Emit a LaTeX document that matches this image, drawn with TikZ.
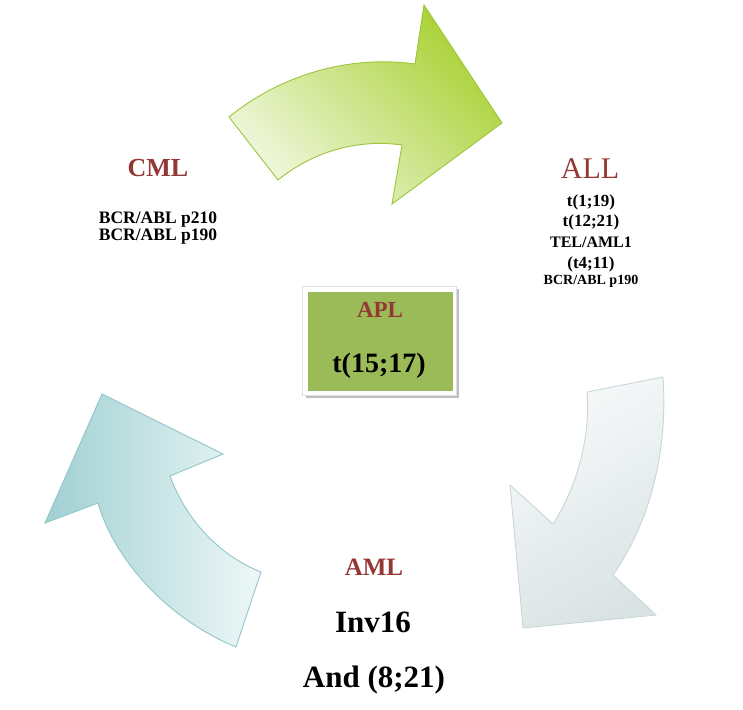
\documentclass[tikz,border=0pt]{standalone}
\usepackage{fontspec}
\setmainfont{Liberation Serif}
\usepackage{tikz}

\definecolor{darkred}{RGB}{149,55,53}
\definecolor{aplgreen}{RGB}{155,187,89}
\definecolor{limedark}{RGB}{169,209,52}
\definecolor{limepale}{RGB}{240,247,222}
\definecolor{limeline}{RGB}{155,198,58}
\definecolor{fogdark}{RGB}{218,227,228}
\definecolor{foglight}{RGB}{247,249,249}
\definecolor{fogline}{RGB}{200,214,216}
\definecolor{tealdark}{RGB}{160,208,210}
\definecolor{teallight}{RGB}{238,247,247}
\definecolor{tealline}{RGB}{143,198,201}

\tikzset{
  bigarrow/.style={line width=0.9pt, line join=miter},
  title/.style={anchor=base, text=darkred, font=\bfseries\fontsize{#1}{#1}\selectfont},
  entry/.style={anchor=base, font=\bfseries\fontsize{#1}{#1}\selectfont},
}

\begin{document}
\begin{tikzpicture}[x=1pt, y=-1pt]
  \useasboundingbox (0,0) rectangle (743,709);

  % the three curved arrows
  \draw[bigarrow, draw=limeline, top color=limedark, bottom color=limepale, shading angle=-45]
    (229,117) .. controls (282,74) and (350,55) .. (415,64)
    -- (424,5) -- (502,123) -- (392,204) -- (402,145)
    .. controls (360,139) and (315,150) .. (278,180) -- cycle;
  \draw[bigarrow, draw=fogline, top color=foglight, bottom color=fogdark, shading angle=30]
    (587,392) -- (663,377)
    .. controls (668,452) and (650,522) .. (613,575)
    -- (656,615) -- (523,628) -- (510,485) -- (553,524)
    .. controls (575,490) and (591,440) .. (587,392);
  \draw[bigarrow, draw=tealline, left color=tealdark, right color=teallight]
    (102,394) -- (223,454) -- (170,476)
    .. controls (186,520) and (220,556) .. (261,572)
    -- (236,647)
    .. controls (170,620) and (115,562) .. (98,503)
    -- (45,523) -- cycle;

  % APL box in the middle
  \fill[gray!50] (305.5,289) rectangle (459,398);
  \filldraw[fill=white, draw=gray!25, line width=0.5pt] (302.5,286.5) rectangle (456.5,395.5);
  \node[fill=aplgreen, minimum width=145pt, minimum height=99pt, inner sep=0pt] (apl) at (380.5,341.5) {};
  \node[title=23] (apltitle) at (380,317) {APL};
  \node[entry=28] (aplA) at (379,372) {t(15;17)};

  % CML
  \node[title=26] (cml) at (158,176) {CML};
  \node[entry=17.5] (cmlA) at (158,223) {BCR/ABL p210};
  \node[entry=17.5] (cmlB) at (158,240) {BCR/ABL p190};

  % ALL
  \node[anchor=base, text=darkred, font=\fontsize{30}{30}\selectfont] (all) at (590,178) {ALL};
  \node[entry=17] (allA) at (591,206) {t(1;19)};
  \node[entry=17] (allB) at (591,226.5) {t(12;21)};
  \node[entry=16] (allC) at (591,247) {TEL/AML1};
  \node[entry=17] (allD) at (591,268) {(t4;11)};
  \node[entry=14] (allE) at (591,284) {BCR/ABL p190};

  % AML
  \node[title=25] (aml) at (374,575) {AML};
  \node[entry=31] (amlA) at (373,632) {Inv16};
  \node[entry=31] (amlB) at (374,687) {And (8;21)};
\end{tikzpicture}
\end{document}
